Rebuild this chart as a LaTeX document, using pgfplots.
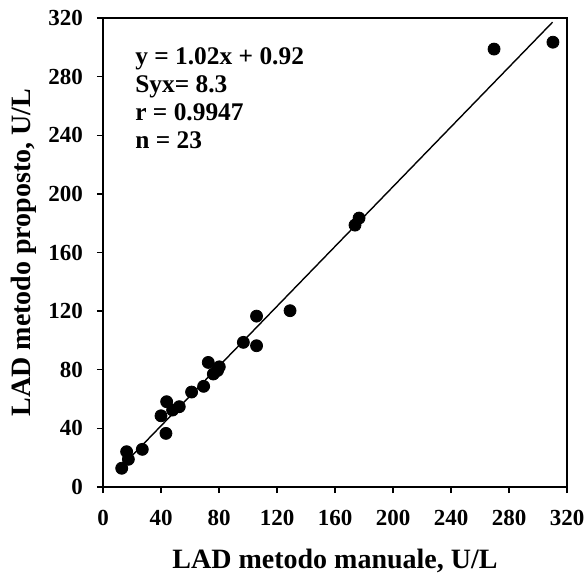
\documentclass[border=0pt]{standalone}
\usepackage{fontspec}
\setmainfont{Liberation Serif}
\usepackage{pgfplots}
\pgfplotsset{compat=1.18}

\begin{document}
\begin{tikzpicture}
\begin{axis}[
  at={(0,0)}, anchor=origin,
  scale only axis, width=232pt, height=234.5pt,
  xmin=0, xmax=320, ymin=0, ymax=320,
  xtick={0,40,...,320}, ytick={0,40,...,320},
  tick align=outside, tick pos=left,
  major tick length=3pt,
  axis line style={line width=0.9pt},
  every tick/.style={line width=0.7pt, black},
  /pgf/number format/assume math mode=true,
  tick label style={font=\fontsize{11.5}{13}\selectfont\bfseries},
  xticklabel style={yshift=-5pt},
  yticklabel style={xshift=-3.5pt},
  label style={font=\fontsize{14}{16}\selectfont\bfseries},
  xlabel={LAD metodo manuale, U/L},
  ylabel={LAD metodo proposto, U/L},
  xlabel style={yshift=-5pt},
  ylabel style={yshift=-1pt},
  clip=false,
]
\addplot[only marks, mark=*, mark size=3pt, black] coordinates {
  (12.9,12.8) (16.3,24.1) (17.5,18.9) (27.1,25.7) (43.4,36.6)
  (40.0,48.6) (43.9,58.2) (48.0,52.5) (52.6,54.8) (61.1,64.8)
  (69.4,68.7) (72.6,85.0) (76.1,77.1) (79.0,79.5) (80.2,82.0)
  (96.8,98.7) (105.9,96.4) (105.9,116.6) (129.0,120.3)
  (173.8,178.7) (176.6,183.5) (269.7,298.8) (310.3,303.5)
};
\addplot[black, line width=0.7pt] coordinates {(13,14.18) (310,317.12)};
\node[anchor=north west, align=left, inner sep=0pt,
  font=\fontsize{12.7}{14}\selectfont\bfseries]
  at (axis cs:22,300) {y = 1.02x + 0.92\\Syx= 8.3\\r = 0.9947\\n = 23};
\end{axis}
\pgfresetboundingbox
\useasboundingbox (-51.5pt,-44pt) rectangle (242pt,243.5pt);
\end{tikzpicture}
\end{document}
